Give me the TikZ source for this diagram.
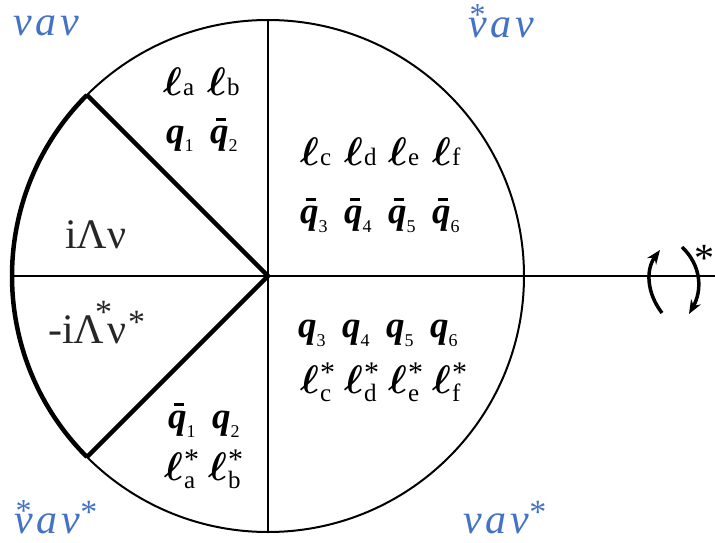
\documentclass[tikz,border=0pt]{standalone}
\usepackage{fontspec}
\setmainfont{Liberation Serif}
\usetikzlibrary{calc, arrows.meta}
\definecolor{labelblue}{RGB}{68,114,196}
\newcommand{\cell}[1]{\makebox[44pt][l]{#1}}
\newcommand{\lsym}{\scalebox{1.6}{\fontsize{24.88}{24.88}\selectfont\boldmath$\ell$}}
\newcommand{\lsub}[1]{{\fontsize{25}{25}\selectfont\upshape\mdseries #1}}
\newcommand{\dsub}[1]{\raisebox{-9pt}{\fontsize{18}{18}\selectfont\upshape\mdseries #1}}
\newcommand{\lep}[1]{\lsym\kern1pt\lsub{#1}}
\newcommand{\lepst}[1]{\lsym\kern1pt\makebox[0pt][l]{\raisebox{-8pt}{\lsub{#1}}}\raisebox{11pt}{\fontsize{30}{30}\selectfont *}}
\newcommand{\qq}[1]{{\bfseries\itshape q}\dsub{#1}}
\newcommand{\qbar}[1]{\makebox[0pt][l]{\hspace{0.17em}\rule[0.6em]{0.26em}{0.07em}}\qq{#1}}
\newcommand{\staron}[1]{\setbox0\hbox{#1}\makebox[0pt][l]{\hbox to\wd0{\hss\raisebox{12pt}{\fontsize{32}{32}\selectfont\upshape *}\hss}}\box0}
\newcommand{\staraft}[1]{\raisebox{#1}{\fontsize{34}{34}\selectfont\upshape *}}

\begin{document}
\begin{tikzpicture}[x=1pt, y=1pt,
        thinline/.style={line width=2pt},
        thickline/.style={line width=4.5pt},
        corner/.style={font=\fontsize{42}{42}\selectfont\itshape, text=labelblue, inner sep=0pt, anchor=base west},
        row/.style={font=\fontsize{37}{37}\selectfont, inner sep=0pt, anchor=base west},
        greek/.style={font=\fontsize{42}{42}\selectfont, text=black!85, inner sep=0pt, anchor=base west},
        turn/.style={line width=3.5pt, -{Stealth[length=14pt, width=11pt]}}
    ]
        \useasboundingbox (0,0) rectangle (715,542);

        % --- DISK ---
        \coordinate (o) at (268,266);
        \coordinate (top) at (268,522);
        \coordinate (bottom) at (268,10);
        \coordinate (left) at (12,266);
        \coordinate (right) at (715,266);
        \coordinate (upper) at ($(o)+(135:256)$);
        \coordinate (lower) at ($(o)+(225:256)$);
        \draw[thinline] (o) circle[radius=256];
        \draw[thinline] (top) -- (bottom);
        \draw[thinline] (left) -- (right);
        \draw[thickline] (upper) -- (o) -- (lower);
        \draw[thickline] (upper) arc[start angle=135, end angle=225, radius=256];

        % --- CORNER LABELS ---
        \node[corner] (nw) at (13,506) {v\kern4pt a\kern4pt v};
        \node[corner] (ne) at (468,504) {\staron{v}\kern4pt a\kern4pt v};
        \node[corner] (sw) at (14,9) {\staron{v}\kern4pt a\kern4pt v\staraft{10pt}};
        \node[corner] (se) at (463,9) {v\kern4pt a\kern4pt v\staraft{10pt}};

        % --- SECTORS ---
        \node[row] (la) at (163,446) {\cell{\lep{a}}\lep{b}};
        \node[row] (qa) at (166,399) {\cell{\qq{1}}\qbar{2}};
        \node[row] (lc) at (300,377) {\cell{\lep{c}}\cell{\lep{d}}\cell{\lep{e}}\lep{f}};
        \node[row] (qc) at (300,319) {\cell{\qbar{3}}\cell{\qbar{4}}\cell{\qbar{5}}\qbar{6}};
        \node[row] (qd) at (298,205) {\cell{\qq{3}}\cell{\qq{4}}\cell{\qq{5}}\qq{6}};
        \node[row] (ld) at (300,149) {\cell{\lepst{c}}\cell{\lepst{d}}\cell{\lepst{e}}\lepst{f}};
        \node[row] (qb) at (168,114) {\cell{\qbar{1}}\qq{2}};
        \node[row] (lb) at (164,62) {\cell{\lepst{a}}\lepst{b}};
        \node[greek] (lam) at (65,294) {iΛν};
        \node[greek] (lamst) at (48,199) {-iΛ\kern-0.22em\staraft{20pt}\kern-0.12emν\kern2pt\staraft{10pt}};

        % --- CONJUGATION ---
        \coordinate (l0) at (662,229);
        \coordinate (l1) at (660,292);
        \coordinate (r0) at (682,295);
        \coordinate (r1) at (689,228);
        \draw[turn] (l0) .. controls (646,250) and (646,273) .. (l1);
        \draw[turn] (r0) .. controls (702,276) and (702,251) .. (r1);
        \node[font=\fontsize{40}{40}\selectfont, inner sep=0pt] (conj) at (704,284) {*};
    \end{tikzpicture}
\end{document}
